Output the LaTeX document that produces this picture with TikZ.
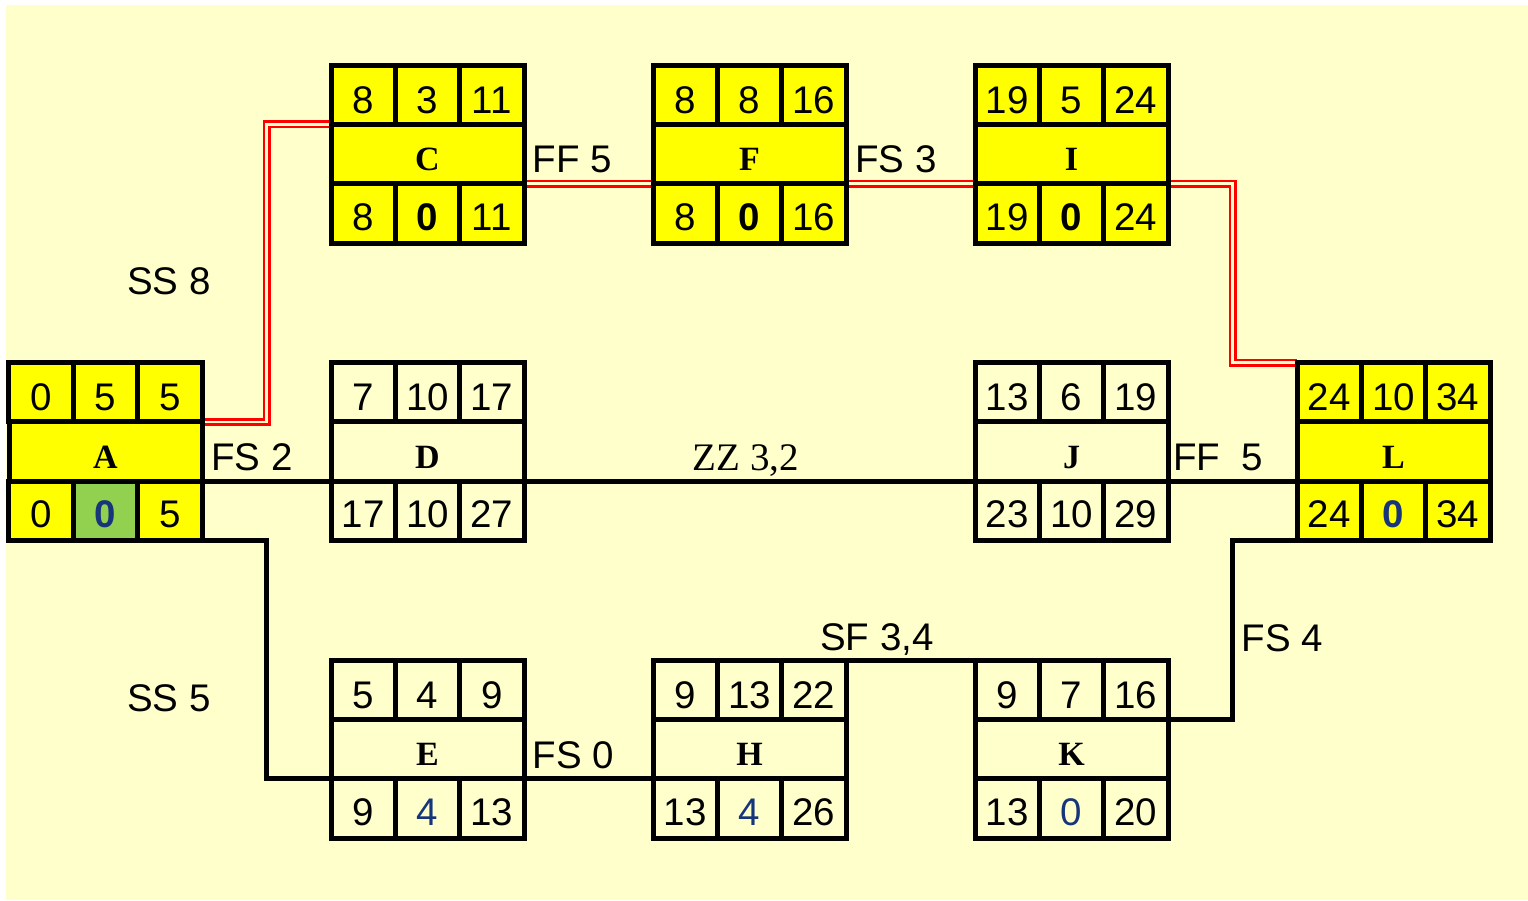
\documentclass[tikz,border=0pt]{standalone}
\usepackage{fontspec}
\setmainfont{Liberation Serif}
\newfontfamily\sansnum{Liberation Sans}
\newfontfamily\serifbold{Liberation Serif Bold}
\usetikzlibrary{calc}
\definecolor{bgcol}{HTML}{FFFFCC}
\definecolor{ybox}{HTML}{FFFF00}
\definecolor{gcell}{HTML}{92D050}
\definecolor{navy}{HTML}{17357A}
\definecolor{cred}{HTML}{FF0000}
\pgfdeclarelayer{bglayer}
\pgfdeclarelayer{connlayer}
\pgfsetlayers{bglayer,connlayer,main}
\tikzset{
 cell/.style={draw=black, line width=5pt, minimum width=64.333pt, minimum height=59.333pt, inner sep=0pt, outer sep=0pt, font=\sansnum\fontsize{38.5}{40}\selectfont},
 celltop/.style={cell, text height=40pt, text depth=2.4pt},
 cellbot/.style={cell, text height=36pt, text depth=2.4pt},
 cellmid/.style={cell, minimum width=193pt, text height=35pt, text depth=1.6pt, font=\serifbold\fontsize{34}{36}\selectfont},
 boxframe/.style={rectangle, minimum width=193pt, minimum height=178pt, inner sep=0pt, outer sep=0pt},
 link/.style={draw=black, line width=5pt},
 crit/.style={draw=cred, line width=2.8pt, double=bgcol, double distance=2.4pt},
 lbl/.style={anchor=base, inner sep=0pt, font=\sansnum\fontsize{38.5}{40}\selectfont},
 lblserif/.style={anchor=base, inner sep=0pt, font=\rmfamily\fontsize{39}{41}\selectfont},
}
% #1 name, #2 left x, #3 top y, #4 fill, #5 top list, #6 letter, #7 bottom list, #8 fill of bottom middle cell
\newcommand\actbox[8]{%
 \node[boxframe] (#1) at (#2+96.5,#3+89) {};
 \foreach \v [count=\i] in {#5} {
   \node[celltop, fill=#4] (#1-t\i) at (#2+64.333*\i-32.167, #3+29.667) {\v};
 }
 \node[cellmid, fill=#4] (#1-m) at (#2+96.5, #3+89) {#6};
 \foreach \v [count=\i] in {#7} {
   \ifnum\i=2 \def\cf{#8}\else\def\cf{#4}\fi
   \node[cellbot, fill=\cf] (#1-b\i) at (#2+64.333*\i-32.167, #3+148.333) {\v};
 }
 \coordinate (#1-r1e) at ($(#1.north east)!1/3!(#1.south east)$);
 \coordinate (#1-r2e) at ($(#1.north east)!2/3!(#1.south east)$);
 \coordinate (#1-r1w) at ($(#1.north west)!1/3!(#1.south west)$);
 \coordinate (#1-r2w) at ($(#1.north west)!2/3!(#1.south west)$);
}
\begin{document}
\begin{tikzpicture}[x=1pt,y=-1pt]
\useasboundingbox (0,0) rectangle (1528,900);
\begin{pgfonlayer}{bglayer}
\fill[bgcol] (6,5) rectangle (1528,900);
\end{pgfonlayer}

\actbox{A}{9}{362.5}{ybox}{0,5,5}{A}{0,{\bfseries\color{navy}0},5}{gcell}
\actbox{C}{331}{65}{ybox}{8,3,11}{C}{8,{\bfseries 0},11}{ybox}
\actbox{F}{653}{65}{ybox}{8,8,16}{F}{8,{\bfseries 0},16}{ybox}
\actbox{I}{975}{65}{ybox}{19,5,24}{I}{19,{\bfseries 0},24}{ybox}
\actbox{D}{331}{362.5}{bgcol}{7,10,17}{D}{17,10,27}{bgcol}
\actbox{J}{975}{362.5}{bgcol}{13,6,19}{J}{23,10,29}{bgcol}
\actbox{L}{1297}{362.5}{ybox}{24,10,34}{L}{24,{\bfseries\color{navy}0},34}{ybox}
\actbox{E}{331}{660}{bgcol}{5,4,9}{E}{9,{\color{navy}4},13}{bgcol}
\actbox{H}{653}{660}{bgcol}{9,13,22}{H}{13,{\color{navy}4},26}{bgcol}
\actbox{K}{975}{660}{bgcol}{9,7,16}{K}{13,{\color{navy}0},20}{bgcol}

\begin{pgfonlayer}{connlayer}
\draw[crit] (A-r1e) -| ($(A-r1e)!.5!(C-r1w)$) |- (C-r1w);
\draw[crit] (C-r2e) -- (F-r2w);
\draw[crit] (F-r2e) -- (I-r2w);
\draw[crit] (I-r2e) -| ($(I-r2e)!.5!(L.north west)$) |- (L.north west);
\draw[link] (A-r2e) -- (D-r2w);
\draw[link] (D-r2e) -- (J-r2w);
\draw[link] (J-r2e) -- (L-r2w);
\draw[link] (A.south east) -| ($(A.south east)!.5!(E-r2w)$) |- (E-r2w);
\draw[link] (E-r2e) -- (H-r2w);
\draw[link] (H.north east) -- (K.north west);
\draw[link] (K-r1e) -| ($(K-r1e)!.5!(L.south west)$) |- (L.south west);
\end{pgfonlayer}

\node[lbl] (lSS8) at (169,294) {SS 8};
\node[lbl] (lFS2) at (252,470) {FS 2};
\node[lbl] (lFF5a) at (572.5,172) {FF 5};
\node[lbl] (lFS3) at (896,172) {FS 3};
\node[lblserif] (lZZ) at (746,470) {ZZ 3,2};
\node[lbl] (lFF5b) at (1218,470) {FF\ \ 5};
\node[lbl] (lSS5) at (169,711) {SS 5};
\node[lbl] (lFS0) at (573.5,768) {FS 0};
\node[lbl] (lSF) at (877,650) {SF 3,4};
\node[lbl] (lFS4) at (1282.5,651) {FS 4};
\end{tikzpicture}
\end{document}
